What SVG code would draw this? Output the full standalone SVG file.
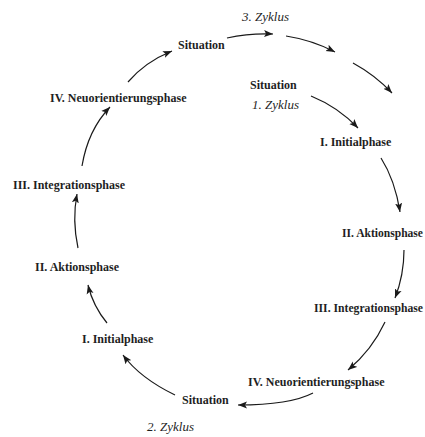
<svg xmlns="http://www.w3.org/2000/svg" width="425" height="437" viewBox="0 0 425 437">
<defs>
<marker id="ah" markerWidth="10" markerHeight="8" refX="9" refY="4" orient="auto" markerUnits="userSpaceOnUse">
<path d="M0,0.5 L9,4 L0,7.5 L2,4 Z" fill="#1a1a1a"/>
</marker>
<style>
.lbl{font-family:"Liberation Serif","Times New Roman",serif;font-weight:bold;font-size:12px;fill:#1f1f1f}
.cyc{font-family:"Liberation Serif","Times New Roman",serif;font-style:italic;font-size:13px;fill:#1f1f1f}
.arr{fill:none;stroke:#1a1a1a;stroke-width:1.2;marker-end:url(#ah)}
</style>
</defs>
<rect width="425" height="437" fill="#ffffff"/>
<g id="cycle3"><text class="cyc" x="242" y="21">3. Zyklus</text></g>
<g id="situation-top"><text class="lbl" x="178" y="49">Situation</text></g>
<g id="situation-mid"><text class="lbl" x="250" y="89">Situation</text></g>
<g id="cycle1"><text class="cyc" x="252" y="109">1. Zyklus</text></g>
<g id="initial-right"><text class="lbl" x="320" y="146">I. Initialphase</text></g>
<g id="aktion-right"><text class="lbl" x="342" y="237" textLength="81" lengthAdjust="spacingAndGlyphs">II. Aktionsphase</text></g>
<g id="integration-right"><text class="lbl" x="314" y="312" textLength="109" lengthAdjust="spacingAndGlyphs">III. Integrationsphase</text></g>
<g id="neuorient-right"><text class="lbl" x="248" y="386">IV. Neuorientierungsphase</text></g>
<g id="situation-bottom"><text class="lbl" x="182" y="404">Situation</text></g>
<g id="cycle2"><text class="cyc" x="147" y="431">2. Zyklus</text></g>
<g id="initial-left"><text class="lbl" x="82" y="343">I. Initialphase</text></g>
<g id="aktion-left"><text class="lbl" x="35" y="271">II. Aktionsphase</text></g>
<g id="integration-left"><text class="lbl" x="13" y="189">III. Integrationsphase</text></g>
<g id="neuorient-left"><text class="lbl" x="50" y="102">IV. Neuorientierungsphase</text></g>
<g id="connectors">
<path class="arr" d="M227,38 Q250,33 273,34"/>
<path class="arr" d="M286,36 Q312,40 335,52"/>
<path class="arr" d="M353,63 Q375,75 392,93"/>
<path class="arr" d="M311,96 Q338,107 358,128"/>
<path class="arr" d="M381,158 Q395,180 400,212"/>
<path class="arr" d="M404,250 Q404,275 395,298"/>
<path class="arr" d="M385,322 Q372,350 348,370"/>
<path class="arr" d="M313,393 Q290,405 238,405"/>
<path class="arr" d="M175,395 Q140,378 123,355"/>
<path class="arr" d="M107,323 Q93,306 88,285"/>
<path class="arr" d="M78,248 Q72,220 77,194"/>
<path class="arr" d="M82,166 Q88,130 110,107"/>
<path class="arr" d="M128,82 Q145,62 172,51"/>
</g>
</svg>
